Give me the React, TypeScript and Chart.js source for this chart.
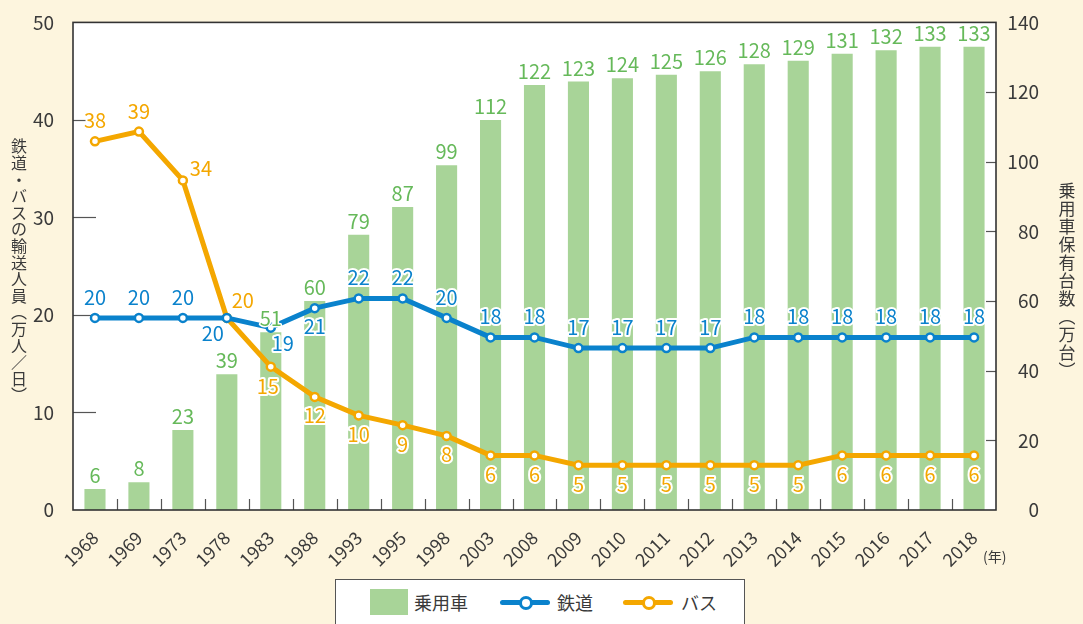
import React, { useEffect, useRef } from 'react';
import { Chart, registerables } from 'chart.js';
Chart.register(...registerables);

const years = ['1968','1969','1973','1978','1983','1988','1993','1995','1998','2003','2008','2009','2010','2011','2012','2013','2014','2015','2016','2017','2018'];
const carValues = [6,8,23,39,51,60,79,87,99,112,122,123,124,125,126,128,129,131,132,133,133];
const railValues = [19.7,19.7,19.7,19.7,18.7,20.7,21.7,21.7,19.7,17.7,17.7,16.6,16.6,16.6,16.6,17.7,17.7,17.7,17.7,17.7,17.7];
const busValues = [37.8,38.8,33.8,19.7,14.7,11.6,9.7,8.7,7.6,5.6,5.6,4.6,4.6,4.6,4.6,4.6,4.6,5.6,5.6,5.6,5.6];
const leftTicks = [0,10,20,30,40,50];
const rightTicks = [0,20,40,60,80,100,120,140];

const BG = '#fdf5de';
const GREEN_BAR = '#a8d498';
const GREEN_TXT = '#66b95a';
const BLUE = '#0a82cc';
const ORANGE = '#f4a700';
const TEXT = '#3a3a3a';
const FONT = '"Noto Sans CJK JP", "Noto Sans", sans-serif';

const railOffsets: Record<number, [number, number]> = { 3: [-14, 16], 4: [12, 16], 5: [0, 19] };
const busOffsets: Record<number, [number, number]> = { 0: [0, -20], 1: [0, -20], 2: [18, -11], 3: [16, -17], 4: [-3, 20] };

function drawLabel(ctx: CanvasRenderingContext2D, text: string, x: number, y: number, color: string, halo: boolean) {
  ctx.textAlign = 'center';
  ctx.textBaseline = 'alphabetic';
  const by = y + 7;
  if (halo) {
    ctx.lineWidth = 4;
    ctx.lineJoin = 'round';
    ctx.strokeStyle = '#ffffff';
    ctx.strokeText(text, x, by);
  }
  ctx.fillStyle = color;
  ctx.fillText(text, x, by);
}

function drawVertical(ctx: CanvasRenderingContext2D, text: string, cx: number, top: number, step: number, font: string) {
  ctx.save();
  ctx.font = font;
  ctx.fillStyle = TEXT;
  ctx.textAlign = 'center';
  ctx.textBaseline = 'middle';
  const chars = Array.from(text);
  chars.forEach((c, i) => {
    ctx.fillText(c, cx, top + step * i + step / 2);
  });
  ctx.restore();
}

const customPlugin = {
  id: 'custom',
  beforeDraw(chart: any) {
    const { ctx, chartArea: a } = chart;
    ctx.save();
    ctx.fillStyle = '#ffffff';
    ctx.fillRect(a.left, a.top, a.right - a.left, a.bottom - a.top);
    ctx.restore();
  },
  beforeDatasetsDraw(chart: any) {
    const { ctx, chartArea: a, scales } = chart;
    ctx.save();
    ctx.strokeStyle = '#555';
    ctx.lineWidth = 1.2;
    leftTicks.forEach((v) => {
      if (v === 0 || v === 50) return;
      const y = Math.round(scales.y.getPixelForValue(v)) + 0.5;
      ctx.beginPath(); ctx.moveTo(a.left, y); ctx.lineTo(a.left + 23, y); ctx.stroke();
    });
    rightTicks.forEach((v) => {
      if (v === 0 || v === 140) return;
      const y = Math.round(scales.y1.getPixelForValue(v)) + 0.5;
      ctx.beginPath(); ctx.moveTo(a.right - 10, y); ctx.lineTo(a.right, y); ctx.stroke();
    });
    for (let i = 0; i < years.length - 1; i++) {
      const x = Math.round((scales.x.getPixelForValue(i) + scales.x.getPixelForValue(i + 1)) / 2) + 0.5;
      ctx.beginPath(); ctx.moveTo(x, a.bottom); ctx.lineTo(x, a.bottom - 11); ctx.stroke();
    }
    ctx.restore();
  },
  afterDatasetsDraw(chart: any) {
    const { ctx, chartArea: a, scales } = chart;
    ctx.save();
    ctx.strokeStyle = '#333';
    ctx.lineWidth = 1.6;
    ctx.strokeRect(a.left, a.top, a.right - a.left, a.bottom - a.top);
    ctx.font = `20px ${FONT}`;
    carValues.forEach((v, i) => {
      const x = scales.x.getPixelForValue(i);
      const y = scales.y1.getPixelForValue(v);
      ctx.textAlign = 'center';
      ctx.textBaseline = 'alphabetic';
      ctx.lineWidth = 3;
      ctx.lineJoin = 'round';
      ctx.strokeStyle = '#ffffff';
      ctx.strokeText(String(v), x, y - 6);
      ctx.fillStyle = GREEN_TXT;
      ctx.fillText(String(v), x, y - 6);
    });
    busValues.forEach((v, i) => {
      const x = scales.x.getPixelForValue(i);
      const y = scales.y.getPixelForValue(v);
      const off = busOffsets[i] || [0, 19.5];
      drawLabel(ctx, String(Math.round(v)), x + off[0], y + off[1], ORANGE, true);
    });
    railValues.forEach((v, i) => {
      const x = scales.x.getPixelForValue(i);
      const y = scales.y.getPixelForValue(v);
      const off = railOffsets[i] || [0, -20];
      drawLabel(ctx, String(Math.round(v)), x + off[0], y + off[1], BLUE, true);
    });
    ctx.restore();
  },
  afterDraw(chart: any) {
    const { ctx, chartArea: a, scales } = chart;
    ctx.save();
    ctx.font = `19px ${FONT}`;
    ctx.fillStyle = TEXT;
    ctx.textAlign = 'right';
    ctx.textBaseline = 'middle';
    rightTicks.forEach((v) => {
      ctx.fillText(String(v), a.right + 43, scales.y1.getPixelForValue(v));
    });
    ctx.restore();
    drawVertical(ctx, '鉄道・バスの輸送人員︵万人／日︶', 19, 138, 16.6, `16px ${FONT}`);
    drawVertical(ctx, '乗用車保有台数︵万台︶', 1067, 182, 18, `17px ${FONT}`);
    ctx.save();
    ctx.font = `14px ${FONT}`;
    ctx.fillStyle = TEXT;
    ctx.textAlign = 'left';
    ctx.textBaseline = 'middle';
    ctx.fillText('(年)', a.right - 13, 557);
    ctx.restore();
  },
};

export default function App() {
  const ref = useRef<HTMLCanvasElement>(null);
  useEffect(() => {
    if (!ref.current) return;
    const chart = new Chart(ref.current, {
      type: 'bar',
      data: {
        labels: years,
        datasets: [
          {
            type: 'line',
            label: '鉄道',
            data: railValues,
            yAxisID: 'y',
            borderColor: BLUE,
            borderWidth: 5,
            pointRadius: 4,
            pointBorderWidth: 2.5,
            pointBackgroundColor: '#ffffff',
            pointBorderColor: BLUE,
            tension: 0,
            order: 1,
          } as any,
          {
            type: 'line',
            label: 'バス',
            data: busValues,
            yAxisID: 'y',
            borderColor: ORANGE,
            borderWidth: 5,
            pointRadius: 4,
            pointBorderWidth: 2.5,
            pointBackgroundColor: '#ffffff',
            pointBorderColor: ORANGE,
            tension: 0,
            order: 2,
          } as any,
          {
            type: 'bar',
            label: '乗用車',
            data: carValues,
            yAxisID: 'y1',
            backgroundColor: GREEN_BAR,
            barPercentage: 0.6,
            categoryPercentage: 0.8,
            order: 3,
          } as any,
        ],
      },
      options: {
        animation: false,
        responsive: false,
        devicePixelRatio: 1,
        layout: { padding: { top: 19, left: 0, right: 0, bottom: 0 } },
        plugins: { legend: { display: false }, tooltip: { enabled: false } },
        scales: {
          x: {
            offset: true,
            grid: { display: false },
            border: { display: false },
            ticks: {
              color: TEXT,
              font: { family: FONT, size: 18 },
              minRotation: 45,
              maxRotation: 45,
              padding: 9,
              autoSkip: false,
            },
            afterFit: (s: any) => { s.height = 114; },
          },
          y: {
            position: 'left',
            min: 0,
            max: 50,
            grid: { display: false },
            border: { display: false },
            ticks: {
              stepSize: 10,
              color: TEXT,
              font: { family: FONT, size: 19 },
              padding: 11,
            },
            afterFit: (s: any) => { s.width = 73; },
          },
          y1: {
            position: 'right',
            min: 0,
            max: 140,
            grid: { display: false },
            border: { display: false },
            ticks: { display: false, stepSize: 20 },
            afterFit: (s: any) => { s.width = 87; },
          },
        },
      } as any,
      plugins: [customPlugin],
    });
    return () => chart.destroy();
  }, []);

  const txt: React.CSSProperties = { position: 'absolute', fontFamily: FONT, fontSize: 18, color: TEXT, lineHeight: '20px' };
  return (
    <div style={{ position: 'absolute', left: 0, top: 0, width: 1083, height: 624, background: BG, overflow: 'hidden' }}>
      <canvas ref={ref} width={1083} height={624} style={{ position: 'absolute', left: 0, top: 0, width: 1083, height: 624 }} />
      <div style={{ position: 'absolute', left: 335, top: 579, width: 410, height: 70, background: '#fff', border: '1px solid #555', boxSizing: 'border-box' }} />
      <div style={{ position: 'absolute', left: 370, top: 589, width: 38, height: 26, background: GREEN_BAR }} />
      <div style={{ ...txt, left: 414, top: 592 }}>乗用車</div>
      <div style={{ position: 'absolute', left: 500, top: 600, width: 50, height: 5, background: BLUE, borderRadius: 3 }} />
      <div style={{ position: 'absolute', left: 519, top: 596, width: 8, height: 8, borderRadius: '50%', background: '#fff', border: `3px solid ${BLUE}` }} />
      <div style={{ ...txt, left: 557, top: 592 }}>鉄道</div>
      <div style={{ position: 'absolute', left: 623, top: 600, width: 50, height: 5, background: ORANGE, borderRadius: 3 }} />
      <div style={{ position: 'absolute', left: 642, top: 596, width: 8, height: 8, borderRadius: '50%', background: '#fff', border: `3px solid ${ORANGE}` }} />
      <div style={{ ...txt, left: 681, top: 592 }}>バス</div>
    </div>
  );
}
